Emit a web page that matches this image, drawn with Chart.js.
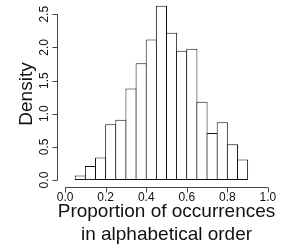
<!DOCTYPE html>
<html>
<head>
<meta charset="utf-8">
<script src="https://cdn.jsdelivr.net/npm/chart.js@4/dist/chart.umd.min.js"></script>
<style>
  html, body { margin: 0; padding: 0; background: #fff; }
  canvas { display: block; }
</style>
</head>
<body>
<canvas id="hist" width="287" height="249"></canvas>
<script>
// histogram bins (left edges) and their densities
const binStarts = [0.05, 0.10, 0.15, 0.20, 0.25, 0.30, 0.35, 0.40, 0.45,
                   0.50, 0.55, 0.60, 0.65, 0.70, 0.75, 0.80, 0.85];
const binWidth = 0.05;
const density = [0.07, 0.21, 0.34, 0.84, 0.91, 1.38, 1.76, 2.12, 2.63,
                 2.22, 1.95, 1.98, 1.18, 0.71, 0.87, 0.54, 0.31];

const xTicks = [0.0, 0.2, 0.4, 0.6, 0.8, 1.0];
const yTicks = [0.0, 0.5, 1.0, 1.5, 2.0, 2.5];
const xTitle = ["Proportion of occurrences", "in alphabetical order"];
const yTitle = "Density";

const FONT = '"Liberation Sans", Arial, sans-serif';

// R style axes: lines only span first..last tick, sit on the plot edge
const rAxes = {
  id: "rAxes",
  afterDraw(chart) {
    const ctx = chart.ctx;
    const xs = chart.scales.x, ys = chart.scales.y;
    const area = chart.chartArea;
    ctx.save();
    ctx.strokeStyle = "#444";
    ctx.lineWidth = 1;
    ctx.fillStyle = "#111";

    // x axis
    const ax = Math.round(area.bottom) + 0.5;
    const x0 = xs.getPixelForValue(xTicks[0]);
    const x1 = xs.getPixelForValue(xTicks[xTicks.length - 1]);
    ctx.beginPath();
    ctx.moveTo(x0, ax);
    ctx.lineTo(x1, ax);
    xTicks.forEach((t) => {
      const px = Math.round(xs.getPixelForValue(t)) + 0.5;
      ctx.moveTo(px, ax);
      ctx.lineTo(px, ax + 5);
    });
    ctx.stroke();
    ctx.font = "12px " + FONT;
    ctx.textAlign = "center";
    ctx.textBaseline = "alphabetic";
    xTicks.forEach((t) => {
      ctx.fillText(t.toFixed(1), xs.getPixelForValue(t), ax + 13);
    });

    // y axis
    const ay = Math.round(area.left) + 0.5;
    const y0 = ys.getPixelForValue(yTicks[0]);
    const y1 = ys.getPixelForValue(yTicks[yTicks.length - 1]);
    ctx.beginPath();
    ctx.moveTo(ay, y0);
    ctx.lineTo(ay, y1);
    yTicks.forEach((t) => {
      const py = Math.round(ys.getPixelForValue(t)) + 0.5;
      ctx.moveTo(ay, py);
      ctx.lineTo(ay - 5, py);
    });
    ctx.stroke();
    yTicks.forEach((t) => {
      ctx.save();
      ctx.translate(ay - 10, ys.getPixelForValue(t));
      ctx.rotate(-Math.PI / 2);
      ctx.fillText(t.toFixed(1), 0, 0);
      ctx.restore();
    });

    // titles
    ctx.font = "19px " + FONT;
    const cx = (area.left + area.right) / 2;
    ctx.fillText(xTitle[0], cx, ax + 29);
    ctx.fillText(xTitle[1], cx, ax + 52);
    ctx.save();
    ctx.translate(32, (area.top + area.bottom) / 2);
    ctx.rotate(-Math.PI / 2);
    ctx.fillText(yTitle, 0, 0);
    ctx.restore();
    ctx.restore();
  }
};

// bars are widened by one pixel so neighbouring outlines overlap into a single line
const binPx = 203 * binWidth;

new Chart(document.getElementById("hist"), {
  type: "bar",
  data: {
    datasets: [{
      data: binStarts.map((b, i) => ({ x: b + binWidth / 2, y: density[i] })),
      backgroundColor: "#fff",
      borderColor: "#111",
      borderWidth: 1,
      borderSkipped: false,
      barPercentage: (binPx + 1) / binPx,
      categoryPercentage: 1
    }]
  },
  options: {
    responsive: false,
    animation: false,
    devicePixelRatio: 1,
    layout: { padding: { left: 57, right: 11, top: 1, bottom: 62 } },
    plugins: { legend: { display: false }, tooltip: { enabled: false } },
    scales: {
      x: { type: "linear", min: -0.04, max: 1.04, offset: false, display: false },
      y: { type: "linear", min: -0.105, max: 2.7, display: false }
    }
  },
  plugins: [rAxes]
});
</script>
</body>
</html>
